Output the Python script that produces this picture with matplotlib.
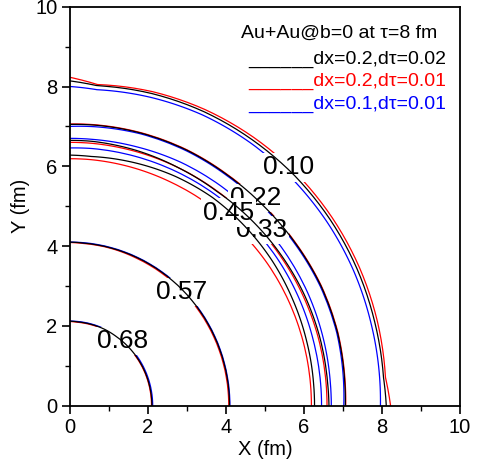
import numpy as np
import matplotlib
matplotlib.use("Agg")
import matplotlib.pyplot as plt
from matplotlib.projections.polar import PolarTransform

plt.rcParams['font.family'] = ['Liberation Sans', 'DejaVu Sans']

# sample angles (degrees) at which contour radii were read
angles_deg = [0, 5, 15, 25, 35, 45, 55, 65, 75, 85, 90]

levels = ["0.68", "0.57", "0.45", "0.33", "0.22", "0.10"]

# radii (fm) for each level, per simulation setting
r_black = {
    "0.68": [2.10, 2.10, 2.10, 2.10, 2.10, 2.10, 2.10, 2.11, 2.11, 2.11, 2.12],
    "0.57": [4.09, 4.09, 4.09, 4.09, 4.09, 4.09, 4.09, 4.09, 4.09, 4.09, 4.10],
    "0.45": [6.27, 6.27, 6.28, 6.30, 6.33, 6.35, 6.37, 6.35, 6.31, 6.27, 6.28],
    "0.33": [6.64, 6.63, 6.63, 6.62, 6.60, 6.58, 6.56, 6.58, 6.62, 6.65, 6.65],
    "0.22": [7.06, 7.07, 7.10, 7.10, 7.07, 7.05, 7.05, 7.07, 7.07, 7.06, 7.05],
    "0.10": [8.11, 8.07, 8.09, 8.12, 8.14, 8.15, 8.14, 8.13, 8.10, 8.05, 8.14],
}
r_red = {
    "0.68": [2.09, 2.09, 2.09, 2.09, 2.09, 2.09, 2.09, 2.10, 2.10, 2.10, 2.11],
    "0.57": [4.07, 4.07, 4.07, 4.07, 4.07, 4.07, 4.07, 4.07, 4.08, 4.08, 4.09],
    "0.45": [6.19, 6.19, 6.19, 6.19, 6.19, 6.18, 6.17, 6.17, 6.18, 6.19, 6.19],
    "0.33": [6.59, 6.59, 6.59, 6.58, 6.57, 6.57, 6.57, 6.58, 6.59, 6.60, 6.60],
    "0.22": [7.07, 7.08, 7.11, 7.11, 7.08, 7.06, 7.06, 7.08, 7.08, 7.07, 7.06],
    "0.10": [8.22, 8.12, 8.16, 8.19, 8.21, 8.22, 8.21, 8.19, 8.15, 8.08, 8.23],
}
r_blue = {
    "0.68": [2.12, 2.12, 2.12, 2.12, 2.12, 2.12, 2.12, 2.12, 2.12, 2.12, 2.12],
    "0.57": [4.10, 4.10, 4.10, 4.10, 4.10, 4.10, 4.10, 4.10, 4.10, 4.10, 4.10],
    "0.45": [6.45, 6.45, 6.45, 6.46, 6.47, 6.47, 6.47, 6.47, 6.47, 6.47, 6.46],
    "0.33": [6.70, 6.70, 6.71, 6.72, 6.72, 6.72, 6.73, 6.73, 6.71, 6.70, 6.70],
    "0.22": [7.02, 7.04, 7.08, 7.08, 7.05, 7.03, 7.03, 7.05, 7.05, 7.02, 7.00],
    "0.10": [7.96, 7.97, 7.99, 8.02, 8.04, 8.05, 8.05, 8.04, 8.00, 7.95, 8.00],
}

# contour label positions (fm)
label_x = {"0.68": 1.34, "0.57": 2.86, "0.22": 4.77, "0.33": 4.90, "0.45": 4.07, "0.10": 5.60}
label_y = {"0.68": 1.63, "0.57": 2.84, "0.22": 5.21, "0.33": 4.40, "0.45": 4.84, "0.10": 5.97}
label_order = ["0.68", "0.57", "0.22", "0.33", "0.45", "0.10"]

title_text = "Au+Au@b=0 at \u03c4=8 fm"
legend_texts = ["______dx=0.2,d\u03c4=0.02", "______dx=0.2,d\u03c4=0.01", "______dx=0.1,d\u03c4=0.01"]
legend_colors = ["#000000", "#ff0000", "#0000ff"]

fig = plt.figure(figsize=(4.84, 4.68), dpi=100)
ax = fig.add_axes([70/484, 1-405.7/468, 390/484, (405.7-6.7)/468])

th = np.deg2rad(np.array(angles_deg, dtype=float))
try:
    ptrans = PolarTransform(apply_theta_transforms=False)
except TypeError:
    ptrans = PolarTransform()
polar_to_data = ptrans + ax.transData

def draw(rdict, color, z):
    for lv in levels:
        r = np.array(rdict[lv])
        ln, = ax.plot(th, r, color=color, lw=0.9, zorder=z,
                      solid_joinstyle='round', transform=polar_to_data)
        ln.get_path()._interpolation_steps = 24
        ln.recache(always=True)

draw(r_red, "#ff0000", 2)
draw(r_blue, "#0000ff", 2.1)
draw(r_black, "#000000", 5)

for i, lv in enumerate(label_order):
    ax.text(label_x[lv], label_y[lv], lv, fontsize=19, ha='center', va='center',
            zorder=3 + i*0.1,
            bbox=dict(boxstyle='square,pad=0.08', fc='white', ec='none'))

ax.text(6.90, 9.34, title_text, fontsize=14, ha='center', va='center', color='black')
for t, c, yy in zip(legend_texts, legend_colors, [8.69, 8.14, 7.56]):
    ax.text(9.65, yy, t, fontsize=14, ha='right', va='center', color=c)

ax.set_xlim(0, 10)
ax.set_ylim(0, 10)
ax.set_xticks([0, 2, 4, 6, 8, 10])
ax.set_yticks([0, 2, 4, 6, 8, 10])
ax.set_xticks([1, 3, 5, 7, 9], minor=True)
ax.set_yticks([1, 3, 5, 7, 9], minor=True)
ax.tick_params(which='major', direction='out', length=6, width=1.2, labelsize=14.5, pad=3)
ax.tick_params(which='minor', direction='out', length=3.5, width=1.0)
for s in ax.spines.values():
    s.set_linewidth(1.3)
ax.set_xlabel("X (fm)", fontsize=14.5, labelpad=2)
ax.set_ylabel("Y (fm)", fontsize=14.5, labelpad=4)

fig.savefig("out.png", dpi=100)
